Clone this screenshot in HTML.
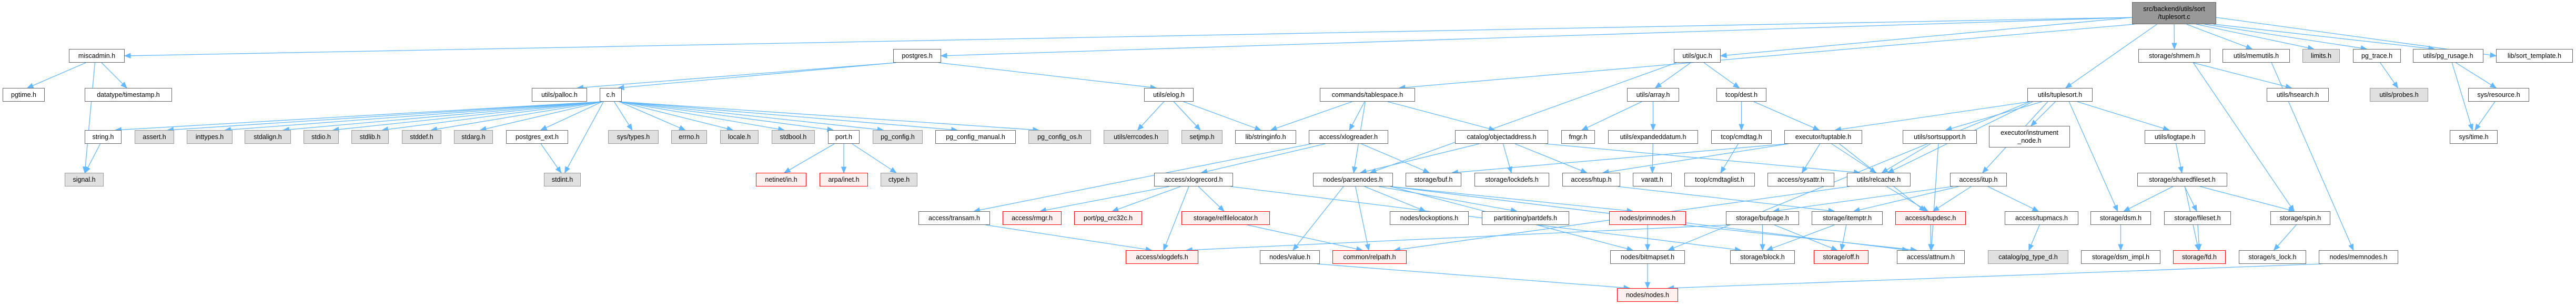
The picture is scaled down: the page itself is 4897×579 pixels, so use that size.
<!DOCTYPE html>
<html><head><meta charset="utf-8">
<style>
html,body{margin:0;padding:0;background:#fff;}
#c{position:relative;width:4897px;height:579px;overflow:hidden;background:#fff;font-family:"Liberation Sans",sans-serif;}
#c svg{position:absolute;left:0;top:0;}
.b{position:absolute;box-sizing:border-box;border:1px solid #666;background:#fff;display:flex;align-items:center;justify-content:center;text-align:center;font-size:12.5px;color:#000;white-space:nowrap;line-height:15px;height:26px;}
.g{background:#e0e0e0;border-color:#999;}
.r{background:#fff0f0;border-color:#f00;}
.m{background:#999;border-color:#666;}
</style></head><body>
<div id="c">
<svg id="sv" width="4897" height="579"></svg>
<div class="b m" id="main" style="left:4053px;top:4px;width:160px;height:42px">src/backend/utils/sort<br>/tuplesort.c</div>

<div class="b" id="miscadmin" style="left:131px;top:93px;width:106px">miscadmin.h</div>
<div class="b" id="postgres" style="left:1698px;top:93px;width:91px">postgres.h</div>
<div class="b" id="guc" style="left:3182px;top:93px;width:89px">utils/guc.h</div>
<div class="b" id="shmem" style="left:4065px;top:93px;width:137px">storage/shmem.h</div>
<div class="b" id="memutils" style="left:4225px;top:93px;width:128px">utils/memutils.h</div>
<div class="b g" id="limits" style="left:4377px;top:93px;width:71px">limits.h</div>
<div class="b" id="pg_trace" style="left:4473px;top:93px;width:91px">pg_trace.h</div>
<div class="b" id="pg_rusage" style="left:4587px;top:93px;width:134px">utils/pg_rusage.h</div>
<div class="b" id="sort_template" style="left:4745px;top:93px;width:146px">lib/sort_template.h</div>

<div class="b" id="pgtime" style="left:5px;top:167px;width:80px">pgtime.h</div>
<div class="b" id="timestamp" style="left:161px;top:167px;width:166px">datatype/timestamp.h</div>
<div class="b" id="palloc" style="left:1011px;top:167px;width:105px">utils/palloc.h</div>
<div class="b" id="ch" style="left:1140px;top:167px;width:42px">c.h</div>
<div class="b" id="elog" style="left:2175px;top:167px;width:94px">utils/elog.h</div>
<div class="b" id="tablespace" style="left:2509px;top:167px;width:181px">commands/tablespace.h</div>
<div class="b" id="array" style="left:3093px;top:167px;width:99px">utils/array.h</div>
<div class="b" id="dest" style="left:3263px;top:167px;width:95px">tcop/dest.h</div>
<div class="b" id="tuplesorth" style="left:3854px;top:167px;width:124px">utils/tuplesort.h</div>
<div class="b" id="hsearch" style="left:4309px;top:167px;width:118px">utils/hsearch.h</div>
<div class="b g" id="probes" style="left:4505px;top:167px;width:111px">utils/probes.h</div>
<div class="b" id="resource" style="left:4692px;top:167px;width:116px">sys/resource.h</div>

<div class="b" id="string" style="left:161px;top:247px;width:70px">string.h</div>
<div class="b g" id="assert" style="left:256px;top:247px;width:75px">assert.h</div>
<div class="b g" id="inttypes" style="left:355px;top:247px;width:87px">inttypes.h</div>
<div class="b g" id="stdalign" style="left:465px;top:247px;width:88px">stdalign.h</div>
<div class="b g" id="stdio" style="left:577px;top:247px;width:67px">stdio.h</div>
<div class="b g" id="stdlib" style="left:668px;top:247px;width:71px">stdlib.h</div>
<div class="b g" id="stddef" style="left:764px;top:247px;width:75px">stddef.h</div>
<div class="b g" id="stdarg" style="left:863px;top:247px;width:74px">stdarg.h</div>
<div class="b" id="postgres_ext" style="left:962px;top:247px;width:118px">postgres_ext.h</div>
<div class="b g" id="systypes" style="left:1156px;top:247px;width:96px">sys/types.h</div>
<div class="b g" id="errno" style="left:1276px;top:247px;width:68px">errno.h</div>
<div class="b g" id="locale" style="left:1369px;top:247px;width:73px">locale.h</div>
<div class="b g" id="stdbool" style="left:1467px;top:247px;width:82px">stdbool.h</div>
<div class="b" id="port" style="left:1574px;top:247px;width:60px">port.h</div>
<div class="b g" id="pg_config" style="left:1659px;top:247px;width:95px">pg_config.h</div>
<div class="b" id="pg_config_manual" style="left:1778px;top:247px;width:153px">pg_config_manual.h</div>
<div class="b g" id="pg_config_os" style="left:1955px;top:247px;width:119px">pg_config_os.h</div>
<div class="b g" id="errcodes" style="left:2098px;top:247px;width:123px">utils/errcodes.h</div>
<div class="b g" id="setjmp" style="left:2246px;top:247px;width:78px">setjmp.h</div>
<div class="b" id="stringinfo" style="left:2348px;top:247px;width:116px">lib/stringinfo.h</div>
<div class="b" id="xlogreader" style="left:2488px;top:247px;width:151px">access/xlogreader.h</div>
<div class="b" id="objectaddress" style="left:2766px;top:247px;width:177px">catalog/objectaddress.h</div>
<div class="b" id="fmgr" style="left:2968px;top:247px;width:64px">fmgr.h</div>
<div class="b" id="expandeddatum" style="left:3057px;top:247px;width:171px">utils/expandeddatum.h</div>
<div class="b" id="cmdtag" style="left:3253px;top:247px;width:115px">tcop/cmdtag.h</div>
<div class="b" id="tuptable" style="left:3392px;top:247px;width:148px">executor/tuptable.h</div>
<div class="b" id="sortsupport" style="left:3617px;top:247px;width:141px">utils/sortsupport.h</div>
<div class="b" id="instrument" style="left:3781px;top:239px;width:154px;height:41px">executor/instrument<br>_node.h</div>
<div class="b" id="logtape" style="left:4077px;top:247px;width:115px">utils/logtape.h</div>
<div class="b" id="systime" style="left:4657px;top:247px;width:91px">sys/time.h</div>

<div class="b g" id="signal" style="left:123px;top:328px;width:74px">signal.h</div>
<div class="b g" id="stdint" style="left:1034px;top:328px;width:70px">stdint.h</div>
<div class="b r" id="netinet" style="left:1437px;top:328px;width:96px">netinet/in.h</div>
<div class="b r" id="arpainet" style="left:1558px;top:328px;width:92px">arpa/inet.h</div>
<div class="b g" id="ctype" style="left:1674px;top:328px;width:70px">ctype.h</div>
<div class="b" id="xlogrecord" style="left:2194px;top:328px;width:150px">access/xlogrecord.h</div>
<div class="b" id="parsenodes" style="left:2496px;top:328px;width:152px">nodes/parsenodes.h</div>
<div class="b" id="buf" style="left:2672px;top:328px;width:106px">storage/buf.h</div>
<div class="b" id="lockdefs" style="left:2803px;top:328px;width:142px">storage/lockdefs.h</div>
<div class="b" id="htup" style="left:2970px;top:328px;width:110px">access/htup.h</div>
<div class="b" id="varatt" style="left:3104px;top:328px;width:74px">varatt.h</div>
<div class="b" id="cmdtaglist" style="left:3202px;top:328px;width:134px">tcop/cmdtaglist.h</div>
<div class="b" id="sysattr" style="left:3360px;top:328px;width:127px">access/sysattr.h</div>
<div class="b" id="relcache" style="left:3511px;top:328px;width:121px">utils/relcache.h</div>
<div class="b" id="itup" style="left:3707px;top:328px;width:108px">access/itup.h</div>
<div class="b" id="sharedfileset" style="left:4063px;top:328px;width:171px">storage/sharedfileset.h</div>

<div class="b" id="transam" style="left:1746px;top:401px;width:136px">access/transam.h</div>
<div class="b r" id="rmgr" style="left:1906px;top:401px;width:112px">access/rmgr.h</div>
<div class="b r" id="crc" style="left:2042px;top:401px;width:129px">port/pg_crc32c.h</div>
<div class="b r" id="relfilelocator" style="left:2246px;top:401px;width:168px">storage/relfilelocator.h</div>
<div class="b" id="lockoptions" style="left:2642px;top:401px;width:150px">nodes/lockoptions.h</div>
<div class="b" id="partdefs" style="left:2817px;top:401px;width:166px">partitioning/partdefs.h</div>
<div class="b r" id="primnodes" style="left:3059px;top:401px;width:146px">nodes/primnodes.h</div>
<div class="b" id="bufpage" style="left:3281px;top:401px;width:139px">storage/bufpage.h</div>
<div class="b" id="itemptr" style="left:3444px;top:401px;width:135px">storage/itemptr.h</div>
<div class="b r" id="tupdesc" style="left:3603px;top:401px;width:134px">access/tupdesc.h</div>
<div class="b" id="tupmacs" style="left:3811px;top:401px;width:140px">access/tupmacs.h</div>
<div class="b" id="dsm" style="left:3974px;top:401px;width:115px">storage/dsm.h</div>
<div class="b" id="fileset" style="left:4114px;top:401px;width:127px">storage/fileset.h</div>
<div class="b" id="spin" style="left:4316px;top:401px;width:114px">storage/spin.h</div>

<div class="b r" id="xlogdefs" style="left:2140px;top:475px;width:138px">access/xlogdefs.h</div>
<div class="b" id="value" style="left:2395px;top:475px;width:114px">nodes/value.h</div>
<div class="b r" id="relpath" style="left:2533px;top:475px;width:141px">common/relpath.h</div>
<div class="b" id="bitmapset" style="left:3061px;top:475px;width:142px">nodes/bitmapset.h</div>
<div class="b" id="block" style="left:3289px;top:475px;width:123px">storage/block.h</div>
<div class="b r" id="off" style="left:3448px;top:475px;width:104px">storage/off.h</div>
<div class="b" id="attnum" style="left:3606px;top:475px;width:129px">access/attnum.h</div>
<div class="b g" id="pg_type_d" style="left:3779px;top:475px;width:153px">catalog/pg_type_d.h</div>
<div class="b" id="dsm_impl" style="left:3956px;top:475px;width:151px">storage/dsm_impl.h</div>
<div class="b r" id="fd" style="left:4131px;top:475px;width:100px">storage/fd.h</div>
<div class="b" id="s_lock" style="left:4256px;top:475px;width:128px">storage/s_lock.h</div>
<div class="b" id="memnodes" style="left:4408px;top:475px;width:151px">nodes/memnodes.h</div>

<div class="b r" id="nodes" style="left:3074px;top:547px;width:116px">nodes/nodes.h</div>
</div>
<script>
var E=[
["main","miscadmin"],["main","postgres"],["main","tablespace"],["main","guc"],["main","tuplesorth"],["main","shmem"],["main","memutils"],["main","limits"],["main","pg_trace"],["main","pg_rusage"],["main","sort_template"],
["postgres","palloc"],["postgres","ch"],["postgres","elog"],
["miscadmin","pgtime"],["miscadmin","timestamp"],["miscadmin","signal"],["string","signal"],
["ch","string"],["ch","assert"],["ch","inttypes"],["ch","stdalign"],["ch","stdio"],["ch","stdlib"],["ch","stddef"],["ch","stdarg"],["ch","postgres_ext"],["ch","stdint"],["ch","systypes"],["ch","errno"],["ch","locale"],["ch","stdbool"],["ch","port"],["ch","pg_config"],["ch","pg_config_manual"],["ch","pg_config_os"],
["postgres_ext","stdint"],["port","netinet"],["port","arpainet"],["port","ctype"],
["elog","errcodes"],["elog","setjmp"],["elog","stringinfo"],
["tablespace","stringinfo"],["tablespace","xlogreader"],["tablespace","parsenodes"],["tablespace","objectaddress"],
["xlogreader","xlogrecord"],["xlogreader","transam"],["xlogreader","buf"],
["xlogrecord","rmgr"],["xlogrecord","crc"],["xlogrecord","xlogdefs"],["xlogrecord","relfilelocator"],["xlogrecord","block"],
["transam","xlogdefs"],["relfilelocator","relpath"],["bufpage","xlogdefs"],
["objectaddress","parsenodes"],["objectaddress","lockdefs"],["objectaddress","htup"],["objectaddress","relcache"],
["array","fmgr"],["array","expandeddatum"],["expandeddatum","varatt"],
["guc","array"],["guc","dest"],["guc","parsenodes"],
["dest","cmdtag"],["dest","tuptable"],["cmdtag","cmdtaglist"],
["tuptable","sysattr"],["tuptable","htup"],["tuptable","buf"],["tuptable","tupdesc"],["tuptable","relcache"],
["parsenodes","value"],["parsenodes","relpath"],["parsenodes","lockoptions"],["parsenodes","partdefs"],["parsenodes","primnodes"],["parsenodes","bitmapset"],["parsenodes","attnum"],
["primnodes","bitmapset"],["primnodes","attnum"],["bitmapset","nodes"],["value","nodes"],["memnodes","nodes"],
["relcache","tupdesc"],["relcache","relpath"],["htup","itemptr"],
["tuplesorth","tuptable"],["tuplesorth","relcache"],["tuplesorth","sortsupport"],["tuplesorth","instrument"],["tuplesorth","itup"],["tuplesorth","dsm"],["tuplesorth","logtape"],["tuplesorth","bitmapset"],
["sortsupport","relcache"],["sortsupport","attnum"],
["itup","bufpage"],["itup","itemptr"],["itup","tupdesc"],["itup","tupmacs"],
["tupdesc","attnum"],["tupmacs","pg_type_d"],["dsm","dsm_impl"],
["bufpage","block"],["bufpage","off"],["itemptr","block"],["itemptr","off"],
["logtape","sharedfileset"],["sharedfileset","dsm"],["sharedfileset","fileset"],["sharedfileset","fd"],["sharedfileset","spin"],["fileset","fd"],["spin","s_lock"],
["shmem","hsearch"],["shmem","spin"],["memutils","memnodes"],["pg_trace","probes"],["pg_rusage","resource"],["pg_rusage","systime"],["resource","systime"]
];
function bx(id){var e=document.getElementById(id);return {x:e.offsetLeft,y:e.offsetTop,w:e.offsetWidth,h:e.offsetHeight};}
var s='',col='#63b8ff';
E.forEach(function(p){
 var a=bx(p[0]),b=bx(p[1]);
 var acx=a.x+a.w/2,acy=a.y+a.h/2,bcx=b.x+b.w/2,bcy=b.y+b.h/2;
 var dx=bcx-acx,dy=bcy-acy,x1,y1,x2,y2;
 if(Math.abs(dy)<20||(b.y<130&&Math.abs(dx)>8*Math.abs(dy))){
  x1=dx<0?a.x:a.x+a.w;y1=acy+Math.max(-a.h/2+4,Math.min(a.h/2-4,dy*0.1));
  x2=dx<0?b.x+b.w:b.x;y2=bcy;
 } else {
  x1=acx+Math.max(-a.w/2+5,Math.min(a.w/2-5,dx*0.15));y1=dy>0?a.y+a.h:a.y;
  x2=bcx+Math.max(-b.w/3,Math.min(b.w/3,-dx*0.05));y2=dy>0?b.y:b.y+b.h;
 }
 var L=Math.hypot(x2-x1,y2-y1),ux=(x2-x1)/L,uy=(y2-y1)/L;
 var ex=x2-ux*11,ey=y2-uy*11;
 s+='<line x1="'+x1.toFixed(1)+'" y1="'+y1.toFixed(1)+'" x2="'+ex.toFixed(1)+'" y2="'+ey.toFixed(1)+'" stroke="'+col+'" stroke-width="1.3"/>';
 var px=-uy*4.5,py=ux*4.5;
 s+='<polygon points="'+x2.toFixed(1)+','+y2.toFixed(1)+' '+(ex+px).toFixed(1)+','+(ey+py).toFixed(1)+' '+(ex-px).toFixed(1)+','+(ey-py).toFixed(1)+'" fill="'+col+'" stroke="'+col+'"/>';
});
document.getElementById('sv').innerHTML=s;
</script>
</body></html>
